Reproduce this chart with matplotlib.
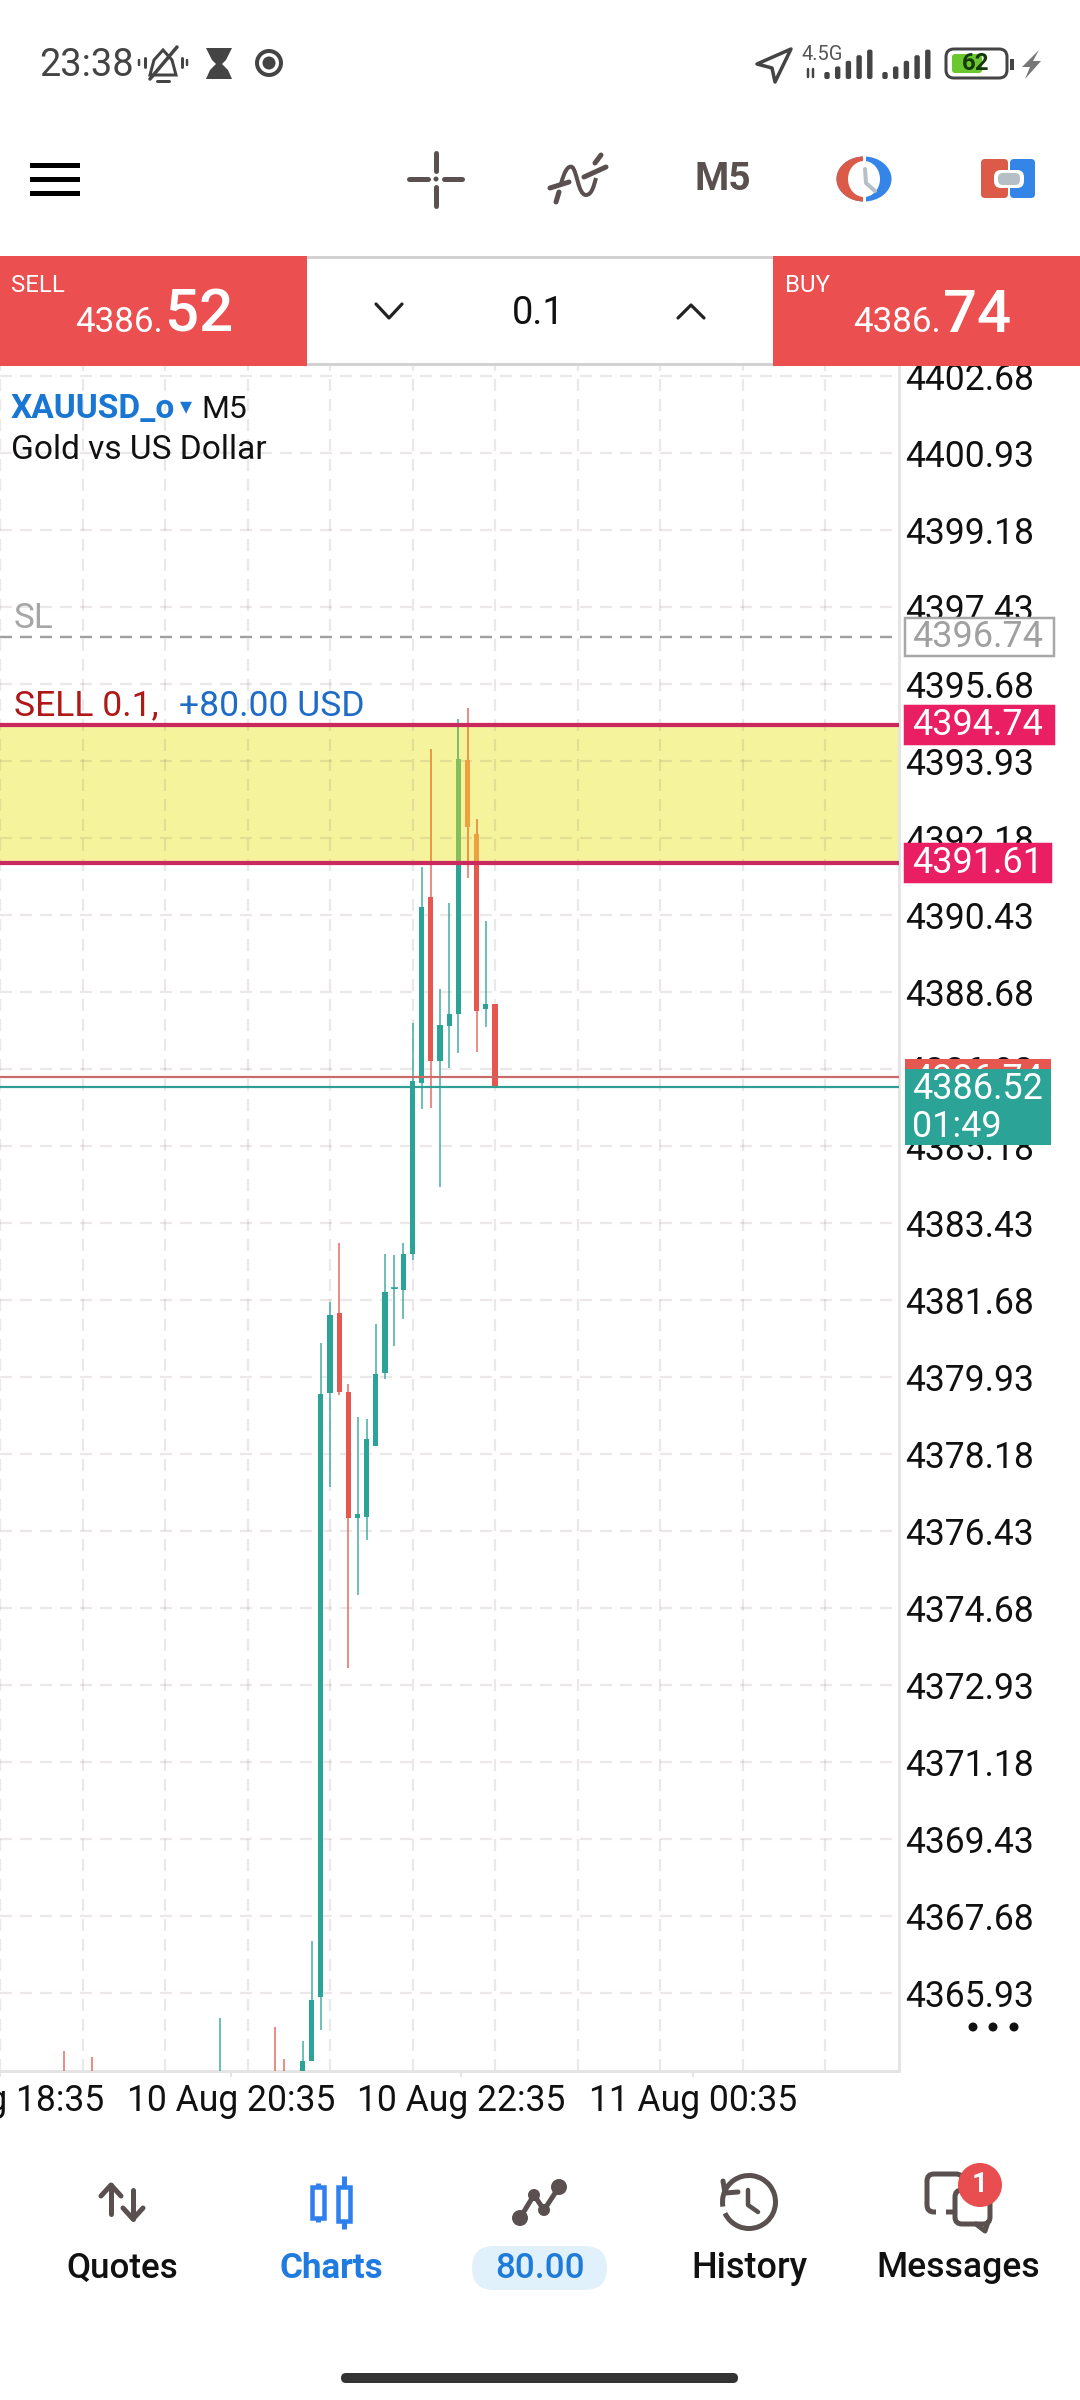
#!/usr/bin/env python3

import numpy as np
import matplotlib
matplotlib.use("Agg")
import matplotlib.pyplot as plt
from matplotlib.patches import Rectangle, FancyBboxPatch, Circle, Ellipse, Polygon, Arc, PathPatch
from matplotlib.path import Path

plt.rcParams["font.family"] = ["Roboto", "DejaVu Sans"]
plt.rcParams["lines.scale_dashes"] = False

# bars (index, open, high, low, close)
bar_index = [7, 10, 24, 30, 31, 33, 34, 35, 36, 37, 38, 39, 40, 41, 42, 43, 44,
             45, 46, 47, 48, 49, 50, 51, 52, 53, 54]
bar_open = [4363.5, 4363.4, 4362.5, 4363.6, 4363.6, 4363.0, 4364.38, 4365.84, 4379.57,
            4381.38, 4379.58, 4376.73, 4376.75, 4378.36, 4380.02, 4381.93, 4381.91,
            4382.73, 4386.61, 4390.83, 4387.11, 4387.91, 4388.18, 4393.95, 4392.26,
            4388.29, 4388.40]
bar_high = [4364.60, 4364.48, 4365.35, 4365.15, 4364.42, 4364.83, 4367.10, 4380.69, 4381.63,
            4382.96, 4379.76, 4379.01, 4378.98, 4381.12, 4382.73, 4382.69, 4382.98,
            4387.98, 4391.51, 4394.19, 4388.74, 4390.69, 4394.87, 4395.12, 4392.60,
            4390.28, 4388.40]
bar_low = [4362.5, 4362.5, 4362.0, 4362.5, 4362.5, 4362.5, 4364.38, 4365.08, 4377.43,
           4379.51, 4373.32, 4374.97, 4376.22, 4378.36, 4379.88, 4380.63, 4381.25,
           4382.58, 4386.01, 4386.04, 4384.25, 4386.95, 4387.29, 4391.27, 4387.32,
           4387.88, 4386.50]
bar_close = [4363.0, 4363.0, 4363.2, 4363.0, 4363.0, 4364.38, 4365.76, 4379.54, 4381.33,
             4379.59, 4376.73, 4376.81, 4378.51, 4379.99, 4381.85, 4381.95, 4382.72,
             4386.65, 4390.60, 4387.11, 4387.92, 4388.17, 4393.97, 4392.43, 4388.25,
             4388.40, 4386.52]

price_ticks = [4365.93, 4367.68, 4369.43, 4371.18, 4372.93, 4374.68, 4376.43, 4378.18,
               4379.93, 4381.68, 4383.43, 4385.18, 4386.93, 4388.68, 4390.43, 4392.18,
               4393.93, 4395.68, 4397.43, 4399.18, 4400.93, 4402.68]
time_ticks = [0.0, 25.2, 50.3, 75.6]
time_labels = ["10 Aug 18:35", "10 Aug 20:35", "10 Aug 22:35", "11 Aug 00:35"]
grid_bars = [0, 9, 18, 27, 36, 45, 54, 63, 72, 81, 90]

stop_loss = 4396.74
entry_price = 4394.74
take_profit = 4391.61
ask_price = 4386.74
bid_price = 4386.52

TEAL = "#2BA396"
RED = "#E5574F"
LIME = "#86BE5E"
ORANGE = "#EDA03F"
BAND = "#F6F39D"
CRIMSON = "#C9295F"
PINK = "#E91E63"
ICON = "#5A5050"
DARK = "#444444"
BLUE = "#2F80ED"
PANEL = "#EB4F50"

W, H = 1080, 2400
CHART_L, CHART_R, CHART_T, CHART_B = 0, 899, 366, 2071
PX_PER_BAR = 9.167
PX_PER_USD = 44.0
PT = 0.72  # one pixel in points at dpi 100


def draw_candles(ax, up_color, down_color, clip=None, zorder=3):
    x = np.array(bar_index, dtype=float)
    o, h, l, c = (np.array(a) for a in (bar_open, bar_high, bar_low, bar_close))
    up = c >= o
    colors = [up_color if u else down_color for u in up]
    wicks = ax.vlines(x, l, h, colors=colors, linewidth=1.5 * PT, alpha=0.9, zorder=zorder)
    bodies = ax.bar(x, np.abs(c - o), bottom=np.minimum(o, c), width=5.2 / PX_PER_BAR,
                    color=colors, linewidth=0, zorder=zorder)
    ticks = ax.hlines(c[np.abs(c - o) < 0.05], x[np.abs(c - o) < 0.05] - 0.4,
                      x[np.abs(c - o) < 0.05] + 0.4,
                      colors=up_color, linewidth=1.6 * PT, zorder=zorder)
    if clip is not None:
        wicks.set_clip_path(clip)
        ticks.set_clip_path(clip)
        for b in bodies:
            b.set_clip_path(clip)


def draw_chart(fig):
    ax = fig.add_axes([CHART_L / W, 1 - CHART_B / H, (CHART_R - CHART_L) / W,
                       (CHART_B - CHART_T) / H])
    ax.set_xlim(CHART_L / PX_PER_BAR, CHART_R / PX_PER_BAR)
    ax.set_ylim(4393.93 - (CHART_B - 760.7) / PX_PER_USD, 4393.93 + (760.7 - CHART_T) / PX_PER_USD)

    band = Rectangle((0, take_profit), 200, entry_price - take_profit, facecolor=BAND,
                     edgecolor="none", zorder=1)
    ax.add_patch(band)

    dash = (0, (12 * PT, 8 * PT))
    ax.hlines(price_ticks, *ax.get_xlim(), colors="#7A6060", alpha=0.14,
              linewidth=2.2 * PT, linestyles=dash, zorder=2)
    ax.vlines(grid_bars, *ax.get_ylim(), colors="#7A6060", alpha=0.14,
              linewidth=2.2 * PT, linestyles=dash, zorder=2)

    draw_candles(ax, TEAL, RED)
    draw_candles(ax, LIME, ORANGE, clip=band, zorder=3.1)

    ax.axhline(stop_loss, color="#A0A0A0", linewidth=2.4 * PT, linestyle=dash, zorder=4)
    ax.axhline(entry_price, color=CRIMSON, linewidth=4.2 * PT, zorder=4)
    ax.axhline(take_profit, color=CRIMSON, linewidth=4.2 * PT, zorder=4)
    ax.axhline(ask_price, color="#C96A68", linewidth=2.2 * PT, zorder=4)
    ax.axhline(bid_price, color="#2E9E96", linewidth=2.2 * PT, zorder=4)

    for name in ("top", "left"):
        ax.spines[name].set_visible(False)
    for name in ("right", "bottom"):
        ax.spines[name].set_color("#E4E4E4")
        ax.spines[name].set_linewidth(3 * PT)

    ax.yaxis.tick_right()
    ax.set_yticks(price_ticks)
    ax.set_yticklabels([f"{p:.2f}" for p in price_ticks], fontsize=25.6, color="#111111")
    ax.tick_params(axis="y", length=0, pad=4.2)
    ax.set_xticks(time_ticks)
    ax.set_xticklabels(time_labels, fontsize=25.6, color="#111111")
    ax.tick_params(axis="x", length=4, width=1.4, color="#E4E4E4", pad=4.5)
    return ax


def line(ui, xs, ys, color=ICON, lw=5, cap="round", join="round", zorder=10):
    ui.plot(xs, ys, color=color, linewidth=lw * PT, solid_capstyle=cap,
            solid_joinstyle=join, zorder=zorder)


def rect(ui, x0, y0, x1, y1, color, zorder=5):
    ui.add_patch(Rectangle((x0, y0), x1 - x0, y1 - y0, facecolor=color, edgecolor="none", zorder=zorder))


def rrect(ui, x0, y0, x1, y1, r, fc, ec="none", lw=0, zorder=6):
    ui.add_patch(FancyBboxPatch((x0 + r, y0 + r), x1 - x0 - 2 * r, y1 - y0 - 2 * r,
                                boxstyle=f"round,pad={r}", facecolor=fc, edgecolor=ec,
                                linewidth=lw * PT, zorder=zorder))


def label(ui, x, y, s, size, color="#111111", ha="left", va="center", weight="normal", zorder=12):
    # centre on the digit height rather than on the descender box
    ui.text(x, y + 3, s, fontsize=size * PT, color=color, ha=ha, va=va, fontweight=weight, zorder=zorder)


def arrow(ui, x, y0, y1, hw, color=ICON):
    # y0 is the tail, y1 the tip
    step = 11 if y1 > y0 else -11
    line(ui, [x, x], [y0, y1], color=color)
    line(ui, [x - hw, x, x + hw], [y1 - step, y1, y1 - step], color=color)


def draw_status_bar(ui):
    label(ui, 39, 63, "23:38", 38, color=DARK)
    # mute bell
    ui.add_patch(Polygon([(150, 75), (154, 60), (163, 50), (172, 60), (176, 75)], closed=True,
                         facecolor="none", edgecolor=DARK, linewidth=3 * PT, zorder=10))
    line(ui, [150, 177], [79, 47], color=DARK, lw=3.5)
    line(ui, [157, 169], [81, 81], color=DARK, lw=3)
    for x in (145, 182):
        line(ui, [x, x], [58, 67], color=DARK, lw=3)
    for x in (139, 187):
        line(ui, [x, x], [60, 65], color=DARK, lw=2.5)
    # hourglass
    ui.add_patch(Polygon([(206, 48), (232, 48), (226, 60), (222, 64), (228, 70), (232, 79), (206, 79),
                          (210, 70), (216, 64), (212, 60)], closed=True, facecolor=DARK,
                         edgecolor="none", zorder=10))
    # focus ring
    ui.add_patch(Circle((269, 63), 12, facecolor="none", edgecolor=DARK, linewidth=4 * PT, zorder=10))
    ui.add_patch(Circle((269, 63), 6.5, facecolor=DARK, edgecolor="none", zorder=10))

    ui.add_patch(Polygon([(791, 49), (757, 64), (772, 68), (775, 82)], closed=True, facecolor="none",
                         edgecolor=DARK, linewidth=3.5 * PT, joinstyle="round", zorder=10))
    label(ui, 801, 52, "4.5G", 20, color="#555555")
    line(ui, [808, 808], [69, 77], color=DARK, lw=2.5)
    line(ui, [813, 813], [69, 77], color=DARK, lw=2.5)
    for x0 in (827, 885):
        for k in range(5):
            x = x0 + k * 10.7
            rrect(ui, x - 2.7, 79 - (7 + k * 5.6), x + 2.7, 79, 2, DARK, zorder=10)
    rrect(ui, 946, 49, 1007, 78, 8, "white", ec=DARK, lw=3, zorder=10)
    rrect(ui, 952, 54, 982, 73, 3, "#6CC62D", zorder=11)
    label(ui, 976, 61, "62", 24, color="#143A0A", ha="center", weight="bold")
    rect(ui, 1010, 59, 1014, 70, DARK, zorder=10)
    ui.add_patch(Polygon([(1039, 50), (1022, 67), (1030, 67), (1025, 79), (1041, 61), (1033, 61)],
                         closed=True, facecolor="#777777", edgecolor="none", zorder=10))


def draw_toolbar(ui):
    for y in (165, 179.5, 193.5):
        rect(ui, 30, y - 2.5, 80, y + 2.5, "black", zorder=10)
    # crosshair
    line(ui, [409, 428], [179, 179])
    line(ui, [444, 462], [179, 179])
    line(ui, [436, 436], [153, 171])
    line(ui, [436, 436], [187, 206])
    ui.add_patch(Circle((436, 179), 2.5, facecolor=ICON, edgecolor="none", zorder=10))
    # indicators
    curve = Path([(561, 184), (564, 172), (568, 165), (572, 167), (577, 170), (578, 195), (586, 195),
                  (592, 195), (594, 185), (596, 178)],
                 [Path.MOVETO] + [Path.CURVE4] * 9)
    ui.add_patch(PathPatch(curve, facecolor="none", edgecolor=ICON, linewidth=4 * PT, zorder=10))
    line(ui, [550, 569], [188, 182])
    line(ui, [584, 606], [177, 167])
    line(ui, [556, 559], [202, 192])
    line(ui, [595, 601], [163, 155])
    label(ui, 723, 176, "M5", 39, color=ICON, ha="center", weight="bold")
    # period clock
    ui.add_patch(Ellipse((864, 179), 55, 45, facecolor="#3584E8", edgecolor="none", zorder=10))
    theta = np.linspace(np.pi / 2, 3 * np.pi / 2, 60)
    ui.add_patch(Polygon(np.column_stack([864 + 27.5 * np.cos(theta), 179 + 22.5 * np.sin(theta)]),
                         closed=True, facecolor="#DB5A48", edgecolor="none", zorder=10))
    ui.add_patch(Ellipse((864, 179), 32, 36, facecolor="white", edgecolor="none", zorder=11))
    rect(ui, 863, 155, 865.5, 203, "white", zorder=11)
    line(ui, [865, 866, 875], [169, 183, 191], color="#B4C0C6", lw=4, zorder=12)
    # one click trading
    rrect(ui, 981, 159, 1008, 198, 4, "#DB5A48", zorder=10)
    rrect(ui, 1010, 159, 1035, 198, 4, "#3584E8", zorder=10)
    rrect(ui, 994, 170, 1024, 188, 7, "white", zorder=11)
    rrect(ui, 998, 173, 1020, 185, 5, "#B4C0C6", zorder=12)


def draw_trade_panel(ui):
    rect(ui, 0, 256, 307, 366, PANEL)
    rect(ui, 773, 256, 1080, 366, PANEL)
    rect(ui, 307, 259, 773, 363, "white")
    rect(ui, 307, 256, 773, 259, "#D2D2D2")
    rect(ui, 307, 363, 773, 366, "#D2D2D2")
    label(ui, 11, 282, "SELL", 24, color="white")
    label(ui, 785, 282, "BUY", 24, color="white")
    ui.text(163, 332, "4386.", fontsize=35 * PT, color="white", ha="right", va="baseline", zorder=12)
    ui.text(165, 332, "52", fontsize=60 * PT, color="white", ha="left", va="baseline",
            fontweight="medium", zorder=12)
    ui.text(941, 332, "4386.", fontsize=35 * PT, color="white", ha="right", va="baseline", zorder=12)
    ui.text(943, 332, "74", fontsize=60 * PT, color="white", ha="left", va="baseline",
            fontweight="medium", zorder=12)
    label(ui, 538, 310, "0.1", 38, ha="center")
    line(ui, [376, 389, 402], [304, 318, 304], color="#222222", lw=3.2, zorder=12)
    line(ui, [678, 691, 704], [318, 305, 318], color="#222222", lw=3.2, zorder=12)


def draw_chart_labels(ui, to_y):
    label(ui, 11, 406, "XAUUSD_o", 33.5, color="#1976D2", weight="bold")
    label(ui, 186, 404, "▾", 24, color="#1976D2", ha="center")
    label(ui, 201, 406, "M5", 32)
    label(ui, 11, 447, "Gold vs US Dollar", 33.5)
    label(ui, 14, 615, "SL", 35, color="#A6A6A6")
    label(ui, 14, 703, "SELL 0.1,", 35.5, color="#B01818")
    label(ui, 179, 703, "+80.00 USD", 35.5, color="#1E6CC8")

    def tag(price, s, fc, ec, color, x1=1051, h=38):
        y = to_y(price)
        ui.add_patch(Rectangle((905, y - h / 2), x1 - 905, h, facecolor=fc, edgecolor=ec,
                               linewidth=2.5 * PT, zorder=8))
        label(ui, 912, y - 3, s, 36, color=color, zorder=9)

    tag(stop_loss, f"{stop_loss:.2f}", "white", "#A8A8A8", "#A0A0A0", x1=1054)
    tag(entry_price, f"{entry_price:.2f}", PINK, PINK, "white", x1=1054)
    tag(take_profit, f"{take_profit:.2f}", PINK, PINK, "white")

    y_bid = to_y(bid_price)
    rect(ui, 905, 1059, 1051, 1098, RED, zorder=8)
    label(ui, 912, to_y(ask_price), f"{ask_price:.2f}", 36, color="white", zorder=8.5)
    rect(ui, 905, 1069, 1051, 1145, TEAL, zorder=9)
    label(ui, 912, y_bid - 1, f"{bid_price:.2f}", 36, color="white", zorder=10)
    label(ui, 912, 1124, "01:49", 36, color="white", zorder=10)

    for x in (973, 993, 1014):
        ui.add_patch(Circle((x, 2027), 4.5, facecolor="#111111", edgecolor="none", zorder=10))


def draw_nav(ui):
    arrow(ui, 111, 2214, 2185, 10)
    arrow(ui, 133, 2190, 2219, 10)

    line(ui, [318, 318], [2183, 2222], color=BLUE, lw=5, cap="butt")
    line(ui, [344, 344], [2176, 2229], color=BLUE, lw=5, cap="butt")
    for x0, x1, y0, y1 in ((310, 326, 2187, 2218), (336, 352, 2187, 2221)):
        ui.add_patch(Rectangle((x0 + 2, y0), x1 - x0 - 4, y1 - y0, facecolor="white", edgecolor=BLUE,
                               linewidth=4.5 * PT, zorder=11))

    line(ui, [520, 534, 544, 559], [2218, 2195, 2210, 2187])
    for (x, y, r) in ((520, 2218, 8), (534, 2195, 6), (544, 2210, 6), (559, 2187, 8)):
        ui.add_patch(Circle((x, y), r, facecolor=ICON, edgecolor="none", zorder=10))

    ui.add_patch(Arc((749, 2202), 53, 53, theta1=-190, theta2=155, color=ICON, linewidth=5 * PT, zorder=10))
    line(ui, [723, 725, 738], [2181, 2193, 2192])
    line(ui, [748, 748, 758], [2190, 2205, 2212], lw=4.5)

    rrect(ui, 927, 2174, 963, 2212, 7, "white", ec=ICON, lw=5, zorder=10)
    rect(ui, 936, 2209, 946, 2216, "white", zorder=10.5)
    rrect(ui, 955, 2190, 990, 2224, 7, "white", ec=ICON, lw=5, zorder=10.6)
    line(ui, [976, 985, 988], [2224, 2231, 2222], zorder=10.7)
    ui.add_patch(Circle((980, 2185), 22, facecolor="#E84D4F", edgecolor="none", zorder=11))
    label(ui, 980, 2181, "1", 28, color="white", ha="center", weight="bold")

    rrect(ui, 472, 2246, 607, 2290, 22, "#E1F1FB", zorder=9)
    label(ui, 122, 2265, "Quotes", 35, ha="center", weight="medium")
    label(ui, 331, 2265, "Charts", 35, color="#1F7BE0", ha="center", weight="bold")
    label(ui, 540, 2265, "80.00", 35, color="#1F7BD8", ha="center", weight="medium")
    label(ui, 749, 2265, "History", 36, ha="center", weight="medium")
    label(ui, 958, 2265, "Messages", 35.5, ha="center", weight="medium")

    rrect(ui, 341, 2373, 738, 2383, 5, "#333333", zorder=10)


def main():
    fig = plt.figure(figsize=(W / 100, H / 100), dpi=100, facecolor="white")
    ax = draw_chart(fig)

    ui = fig.add_axes([0, 0, 1, 1], zorder=5)
    ui.set_xlim(0, W)
    ui.set_ylim(H, 0)
    ui.axis("off")
    ui.patch.set_alpha(0)

    def to_y(price):
        disp = ax.transData.transform((0, price))
        return ui.transData.inverted().transform(disp)[1]

    draw_status_bar(ui)
    draw_toolbar(ui)
    draw_trade_panel(ui)
    draw_chart_labels(ui, to_y)
    draw_nav(ui)

    fig.savefig("out.png", dpi=100)
    plt.close(fig)


if __name__ == "__main__":
    main()
